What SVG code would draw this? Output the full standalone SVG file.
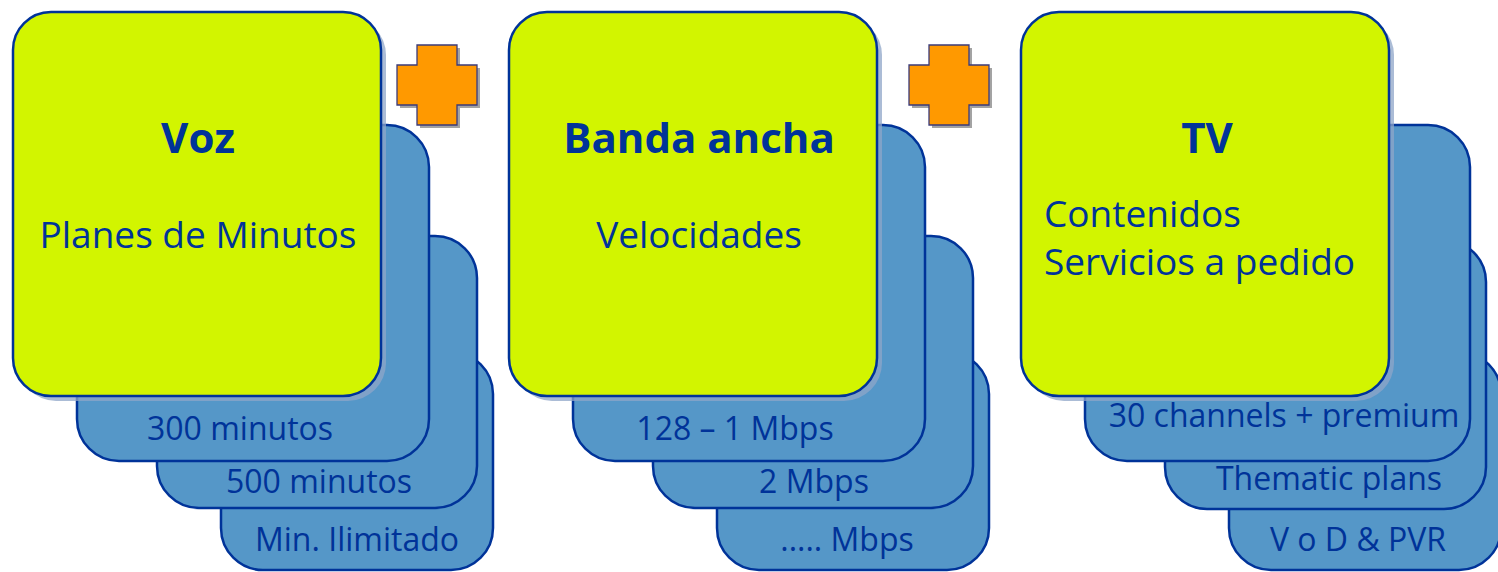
<svg xmlns="http://www.w3.org/2000/svg" width="1498" height="572" viewBox="0 0 1498 572">
<style>
.card{fill:#5597c8;stroke:#003399;stroke-width:2.5}
.main{fill:#d2f500;stroke:#003399;stroke-width:2.5}
.shadow{fill:#8fa6c8;opacity:0.75}
.plus{fill:#ff9900;stroke:#3b3b7a;stroke-width:1.3}
.plusShadow{fill:#666;opacity:0.6}
text{font-family:"Open Sans","Noto Sans","Liberation Sans",sans-serif;fill:#003399}
.title{font-size:42px;font-weight:bold;text-anchor:middle}
.sub{font-size:37px}
.item{font-size:32px;text-anchor:middle}
</style>
<defs>
<path id="plusShape" d="M20,0 H60 V20 H80 V60 H60 V80 H20 V60 H0 V20 H20 Z"/>
</defs>
<g id="connectors"></g>

<g id="voz">
<rect class="card" x="221" y="352" width="272" height="218" rx="42"/>
<rect class="card" x="157" y="236" width="320" height="272" rx="42"/>
<rect class="card" x="77" y="125" width="352" height="336" rx="42"/>
<text class="item" x="357" y="551">Min. Ilimitado</text>
<text class="item" x="319" y="493">500 minutos</text>
<text class="item" x="240" y="440">300 minutos</text>
<rect class="shadow" x="18" y="17" width="368" height="384" rx="38"/>
<rect class="main" x="13" y="12" width="368" height="384" rx="38"/>
<text class="title" x="198" y="153">Voz</text>
<text class="sub" x="198" y="248" text-anchor="middle">Planes de Minutos</text>
</g>

<g id="plus1">
<use href="#plusShape" class="plusShadow" x="400" y="48"/>
<use href="#plusShape" class="plus" x="397" y="45"/>
</g>

<g id="banda">
<rect class="card" x="717" y="352" width="272" height="218" rx="42"/>
<rect class="card" x="653" y="236" width="320" height="272" rx="42"/>
<rect class="card" x="573" y="125" width="352" height="336" rx="42"/>
<text class="item" x="847" y="551">..... Mbps</text>
<text class="item" x="814" y="493">2 Mbps</text>
<text class="item" x="735" y="440">128 – 1 Mbps</text>
<rect class="shadow" x="514" y="17" width="368" height="384" rx="38"/>
<rect class="main" x="509" y="12" width="368" height="384" rx="38"/>
<text class="title" x="699" y="153">Banda ancha</text>
<text class="sub" x="699" y="248" text-anchor="middle">Velocidades</text>
</g>

<g id="plus2">
<use href="#plusShape" class="plusShadow" x="912" y="48"/>
<use href="#plusShape" class="plus" x="909" y="45"/>
</g>

<g id="tv">
<rect class="card" x="1229" y="352" width="272" height="218" rx="42"/>
<rect class="card" x="1165" y="240" width="321" height="269" rx="42"/>
<rect class="card" x="1085" y="125" width="385" height="336" rx="42"/>
<text class="item" x="1358" y="551">V o D &amp; PVR</text>
<text class="item" x="1329" y="490">Thematic plans</text>
<text class="item" x="1284" y="427">30 channels + premium</text>
<rect class="shadow" x="1026" y="17" width="368" height="384" rx="38"/>
<rect class="main" x="1021" y="12" width="368" height="384" rx="38"/>
<text class="title" x="1207" y="153">TV</text>
<text class="sub" x="1044" y="227">Contenidos</text>
<text class="sub" x="1044" y="275">Servicios a pedido</text>
</g>
</svg>
